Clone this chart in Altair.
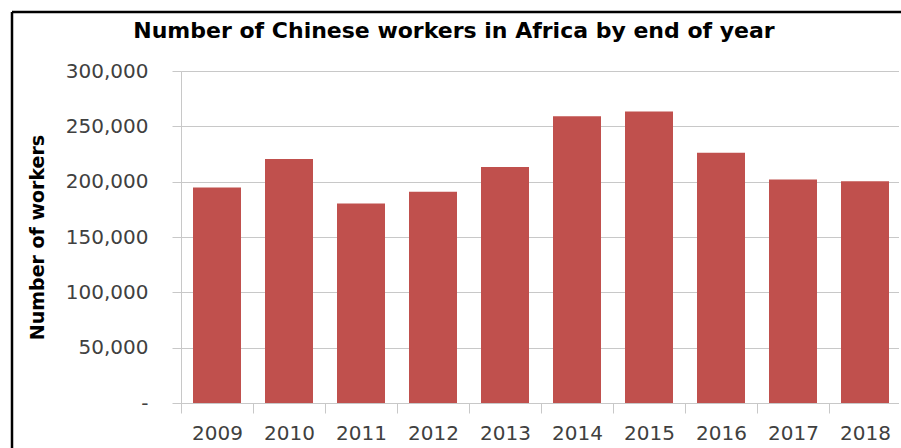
import altair as alt
import pandas as pd

years = ["2009", "2010", "2011", "2012", "2013", "2014", "2015", "2016", "2017", "2018"]
workers = [194700, 220500, 180200, 191000, 213300, 259100, 263300, 226200, 201900, 200400]
y_ticks = [0, 50000, 100000, 150000, 200000, 250000, 300000]
title_text = ["Number of Chinese workers in Africa by end of year"]

df = pd.DataFrame({"year": years, "workers": workers})
title_df = pd.DataFrame({"t": title_text})

FONT = "DejaVu Sans"
LABEL_COLOR = "#404040"
GRID = "#c8c8c8"

bars = alt.Chart(df).mark_bar(
    color="#C0504D", width=alt.RelativeBandSize(2 / 3)
).encode(
    x=alt.X(
        "year:N",
        sort=years,
        title=None,
        scale=alt.Scale(paddingInner=0, paddingOuter=0),
        axis=alt.Axis(
            tickBand="extent",
            labelAngle=0,
            labelFont=FONT,
            labelFontSize=20,
            labelColor=LABEL_COLOR,
            labelPadding=10,
            tickSize=10,
            tickColor=GRID,
            domainColor=GRID,
            grid=False,
        ),
    ),
    y=alt.Y(
        "workers:Q",
        scale=alt.Scale(domain=[0, 300000], nice=False),
        title="Number of workers",
        axis=alt.Axis(
            values=y_ticks,
            labelExpr="datum.value == 0 ? '-\u00a0\u00a0' : format(datum.value, ',')",
            labelFont=FONT,
            labelFontSize=20,
            labelColor=LABEL_COLOR,
            labelPadding=24,
            tickSize=9,
            tickColor=GRID,
            domainColor=GRID,
            gridColor=GRID,
            titleFont=FONT,
            titleFontSize=19,
            titleFontWeight="bold",
            titleColor="#000000",
            titleAngle=270,
            titleX=-138,
            titleY=166,
            titleAlign="center",
            titleBaseline="alphabetic",
        ),
    ),
)

title = alt.Chart(title_df).mark_text(
    font=FONT, fontSize=22, fontWeight="bold", color="#000000",
    align="center", baseline="alphabetic",
).encode(x=alt.value(273), y=alt.value(-33), text="t:N")

frame_left = alt.Chart(title_df).mark_rule(color="black", strokeWidth=2.5).encode(
    x=alt.value(-169), y=alt.value(-59), y2=alt.value(377)
)
frame_top = alt.Chart(title_df).mark_rule(color="black", strokeWidth=2.5).encode(
    x=alt.value(-169), x2=alt.value(722), y=alt.value(-59)
)
edge_cover = alt.Chart(title_df).mark_rule(color="white", strokeWidth=4).encode(
    x=alt.value(720), y=alt.value(-57), y2=alt.value(380)
)

chart = alt.layer(bars, title, frame_left, frame_top, edge_cover).properties(
    width=720,
    height=332,
    autosize=alt.AutoSizeParams(type="none"),
    padding={"left": 181, "top": 71, "right": 0, "bottom": 45},
).configure_view(stroke="transparent").configure(background="white")

chart.save("out.html", embed_options={"renderer": "svg", "actions": False})
